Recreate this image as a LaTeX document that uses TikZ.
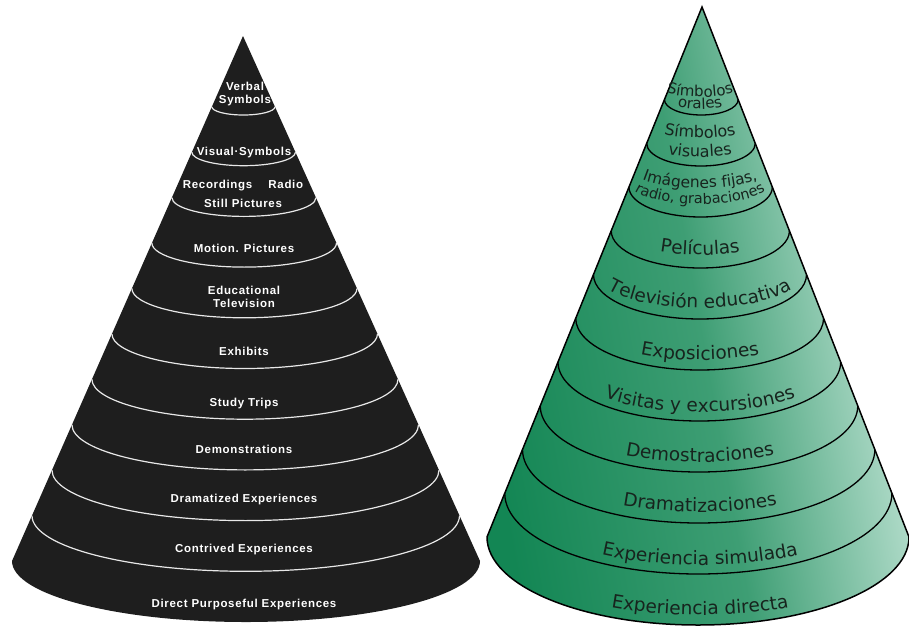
\documentclass[tikz,border=0pt]{standalone}
\usepackage{fontspec}
\usetikzlibrary{decorations.text}

\newfontfamily\scanfont[LetterSpace=6]{Liberation Sans}
\newfontfamily\greenfont{DejaVu Sans}
\newcommand\greenbig{\greenfont\fontsize{18.5}{18.5}\selectfont}

\definecolor{scanblack}{HTML}{1E1E1E}
\definecolor{scanline}{HTML}{E8E8E8}
\definecolor{greendark}{HTML}{138654}
\definecolor{greenmid}{HTML}{3E9E74}
\definecolor{greenlight}{HTML}{D2EDE2}
\definecolor{greenink}{HTML}{17241E}

\tikzset{
  scanring/.style={draw=scanline, line width=1.2pt},
  greenring/.style={draw=black, line width=1.3pt},
  scanlabel/.style={text=white, font=\scanfont\bfseries\fontsize{11.5}{13}\selectfont,
    align=center, inner sep=0pt, anchor=base},
}

% text bent along the front of a ring of the green cone
\newcommand\greenlabel[4]{%
  \path[decorate, decoration={text along path, text align=center,
      text color=greenink, text={#4}}]
    ({700-#2},{#1-#3}) arc[start angle=180, end angle=0, x radius=#2, y radius=#3];}

\begin{document}
\begin{tikzpicture}[x=1pt, y=-1pt]
  \useasboundingbox (0,0) rectangle (909,627);

  % scanned cone
  \fill[scanblack] (243,36) -- (12,561)
    arc[start angle=180, end angle=0, x radius=234, y radius=61] -- cycle;
  \foreach \k in {0,...,9} {
    \pgfmathsetmacro\t{(79+50.7*\k)/586}
    \pgfmathsetmacro\ra{234*\t}
    \pgfmathsetmacro\rb{61*\t}
    \draw[scanring] ({243+3*\t-\ra},{36+525*\t})
      arc[start angle=180, end angle=0, x radius=\ra, y radius=\rb];
  }

  % base = last line
  \node[scanlabel] (verbal) at (245,103) {Verbal\\Symbols};
  \node[scanlabel] (visual) at (244,155) {Visual·Symbols};
  \node[scanlabel] (recordings) at (243,207) {Recordings\hspace{1.4em}Radio\\[6pt]Still Pictures};
  \node[scanlabel] (motion) at (244,252) {Motion. Pictures};
  \node[scanlabel] (television) at (244,307) {Educational\\Television};
  \node[scanlabel] (exhibits) at (244,355) {Exhibits};
  \node[scanlabel] (trips) at (244,406) {Study Trips};
  \node[scanlabel] (demos) at (244,453) {Demonstrations};
  \node[scanlabel] (dramatized) at (244,502) {Dramatized Experiences};
  \node[scanlabel] (contrived) at (244,552) {Contrived Experiences};
  \node[scanlabel] (direct) at (244,607) {Direct Purposeful Experiences};

  % green cone
  \shadedraw[draw=black, line width=1.5pt, bottom color=greendark, top color=greenlight,
      middle color=greenmid, shading angle=-80]
    (702,7) -- (487,537)
    arc[start angle=180, end angle=0, x radius=211, y radius=88] -- cycle;
  \foreach \k in {0,...,9} {
    \pgfmathsetmacro\t{(108+51*\k)/618}
    \pgfmathsetmacro\ra{211*\t}
    \pgfmathsetmacro\rb{88*\t}
    \draw[greenring] ({702-4*\t-\ra},{7+530*\t})
      arc[start angle=180, end angle=0, x radius=\ra, y radius=\rb];
  }

  \greenlabel{97}{38}{8}{|\greenfont\fontsize{15}{15}\selectfont|Símbolos}
  \greenlabel{109}{30}{8}{|\greenfont\fontsize{15}{15}\selectfont|orales}
  \greenlabel{138}{50}{12}{|\greenfont\fontsize{16}{16}\selectfont|Símbolos}
  \greenlabel{157}{52}{14}{|\greenfont\fontsize{16}{16}\selectfont|visuales}
  \greenlabel{188}{70}{20}{|\greenfont\fontsize{15.5}{15.5}\selectfont|Imágenes fijas,}
  \greenlabel{204}{72}{22}{|\greenfont\fontsize{14.5}{14.5}\selectfont|radio, grabaciones}
  \greenlabel{255}{85}{27}{|\greenbig|Películas}
  \greenlabel{308}{103}{34}{|\greenbig|Televisión educativa}
  \greenlabel{360}{120}{42}{|\greenbig|Exposiciones}
  \greenlabel{412}{137}{50}{|\greenbig|Visitas y excursiones}
  \greenlabel{462}{155}{56}{|\greenbig|Demostraciones}
  \greenlabel{512}{172}{63}{|\greenbig|Dramatizaciones}
  \greenlabel{565}{190}{71}{|\greenbig|Experiencia simulada}
  \greenlabel{615}{207}{78}{|\greenbig|Experiencia directa}
\end{tikzpicture}
\end{document}
